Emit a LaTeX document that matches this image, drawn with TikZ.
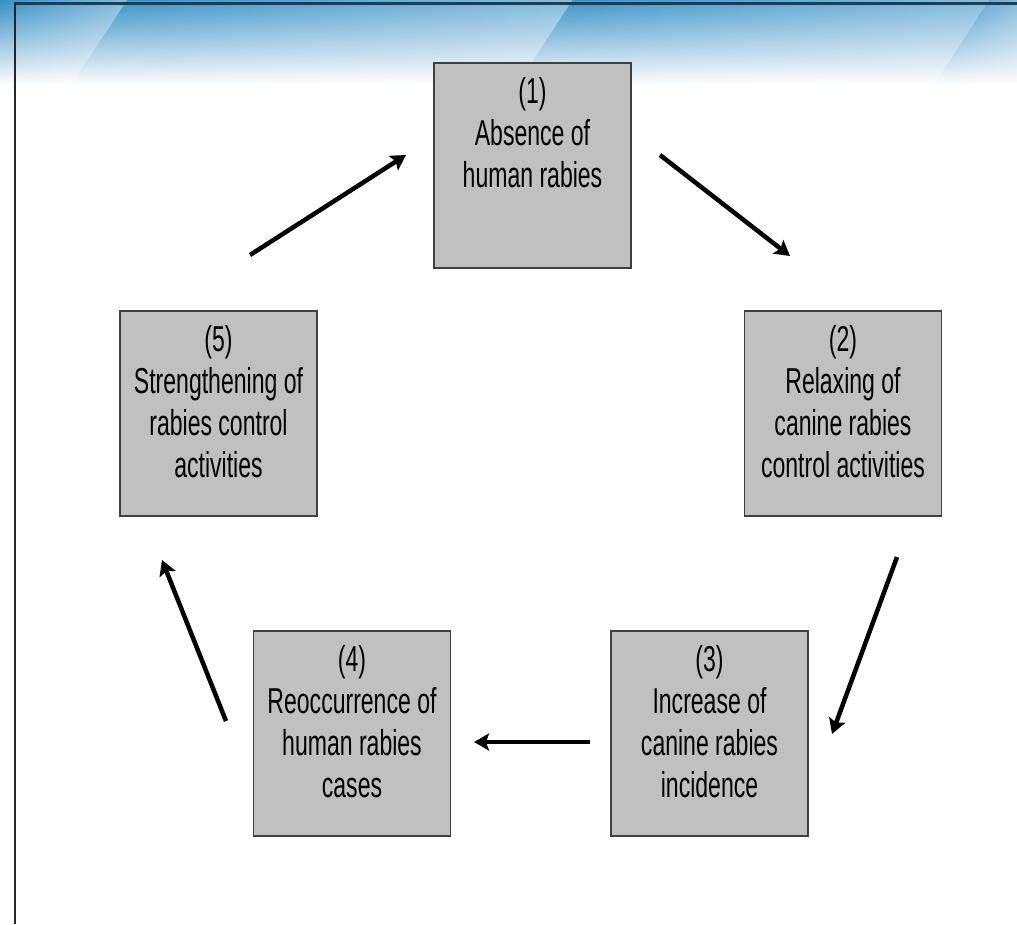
\documentclass[tikz,border=0pt]{standalone}
\usepackage{fontspec}
\setmainfont{Liberation Sans}[FakeStretch=0.64]
\usetikzlibrary{arrows.meta,fadings}
\definecolor{boxfill}{HTML}{C0C0C0}
\definecolor{boxline}{HTML}{404040}
\definecolor{hdrblue}{HTML}{3590C4}
\definecolor{hdrmid}{HTML}{B3D5EA}
\definecolor{frameline}{HTML}{1F3D52}
\tikzfading[name=rampR, left color=transparent!100, right color=transparent!60]
\tikzset{
  box/.style={draw=boxline, fill=boxfill, line width=1.8pt, minimum width=197pt, minimum height=205pt, inner sep=0pt},
  lbl/.style={align=center, inner sep=0pt, anchor=north, font=\fontsize{36}{42}\selectfont},
  arr/.style={line width=4.5pt, -{Stealth[length=15pt,width=17pt,inset=3pt]}},
}
\begin{document}
\begin{tikzpicture}[x=1pt,y=-1pt]
\useasboundingbox (0,0) rectangle (1017,924);
\fill[white] (0,0) rectangle (1017,924);
% header
\shade[top color=hdrblue, middle color=hdrmid, bottom color=white] (0,0) rectangle (1017,85);
\fill[white, path fading=rampR] (0,0) -- (127,0) -- (71,85) -- (0,85) -- cycle;
\fill[white, path fading=rampR] (127,0) -- (573,0) -- (517,85) -- (71,85) -- cycle;
\fill[white, path fading=rampR] (573,0) -- (990,0) -- (934,85) -- (517,85) -- cycle;
\fill[white, path fading=rampR] (990,0) -- (1017,0) -- (1017,85) -- (934,85) -- cycle;
\draw[frameline, line width=2.5pt] (14,3.5) -- (1017,3.5);
\draw[black!85, line width=2.5pt] (15,2.5) -- (15,924);
% boxes
\node[box] (b1) at (532.5,165.5) {};
\node[box] (b2) at (843,413.5) {};
\node[box] (b3) at (709.5,733.5) {};
\node[box] (b4) at (352,733.5) {};
\node[box] (b5) at (218.5,413.5) {};
\node[lbl] (t1) at ([yshift=-15pt]b1.north) {(1)\\Absence of\\human rabies};
\node[lbl] (t2) at ([yshift=-15pt]b2.north) {(2)\\Relaxing of\\canine rabies\\control activities};
\node[lbl] (t3) at ([yshift=-15pt]b3.north) {(3)\\Increase of\\canine rabies\\incidence};
\node[lbl] (t4) at ([yshift=-15pt]b4.north) {(4)\\Reoccurrence of\\human rabies\\cases};
\node[lbl] (t5) at ([yshift=-15pt]b5.north) {(5)\\Strengthening of\\rabies control\\activities};
% arrow ends
\coordinate (a12s) at (660,155);
\coordinate (a12e) at (790,256);
\coordinate (a23s) at (897,557);
\coordinate (a23e) at (832,734);
\coordinate (a34s) at (590,742);
\coordinate (a34e) at (474,742);
\coordinate (a45s) at (226,721);
\coordinate (a45e) at (162,560);
\coordinate (a51s) at (250,255);
\coordinate (a51e) at (406,155);
\draw[arr] (a12s) -- (a12e);
\draw[arr] (a23s) -- (a23e);
\draw[arr] (a34s) -- (a34e);
\draw[arr] (a45s) -- (a45e);
\draw[arr] (a51s) -- (a51e);
\end{tikzpicture}
\end{document}
